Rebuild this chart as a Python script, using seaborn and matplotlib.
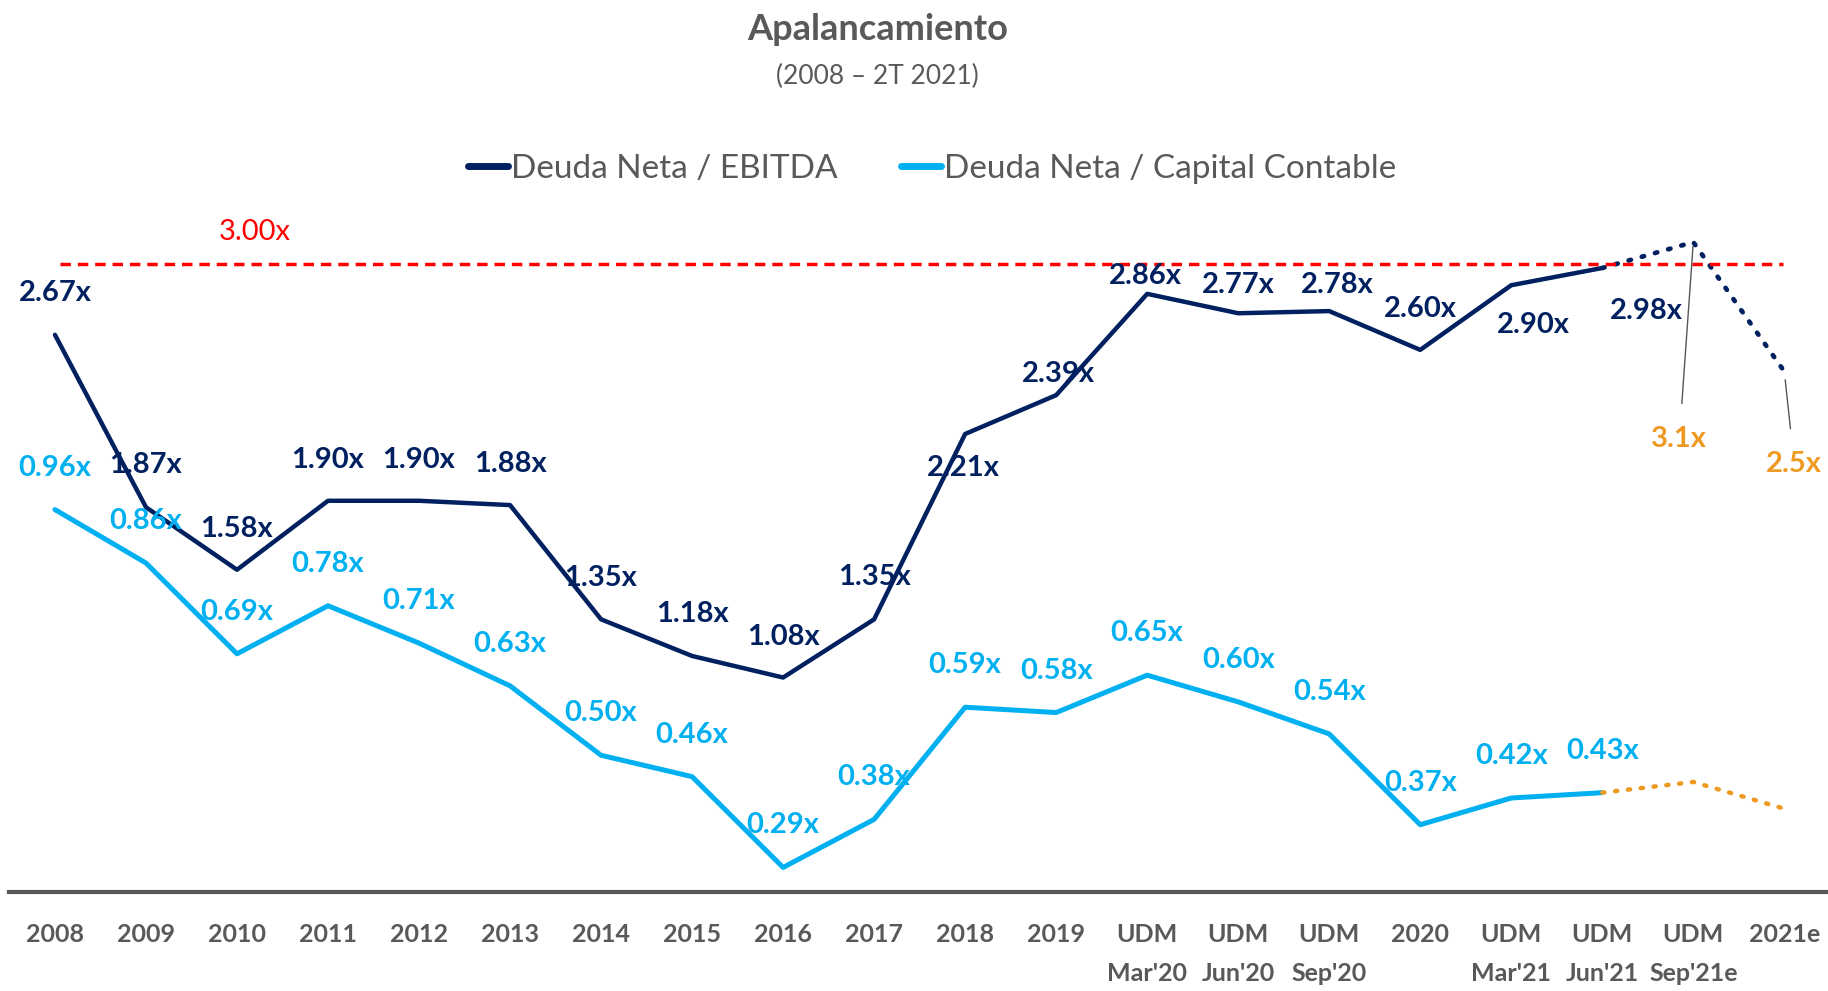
import numpy as np
import matplotlib
matplotlib.use('Agg')
import matplotlib.pyplot as plt
from matplotlib.lines import Line2D
import seaborn as sns
import pandas as pd

sns.set_theme(style='white')
plt.rcParams['font.family'] = ['Lato', 'DejaVu Sans']

# ---- data ----
periodos = ['2008', '2009', '2010', '2011', '2012', '2013', '2014', '2015', '2016', '2017',
            '2018', '2019', "UDM\nMar'20", "UDM\nJun'20", "UDM\nSep'20", '2020',
            "UDM\nMar'21", "UDM\nJun'21", "UDM\nSep'21e", '2021e']
deuda_ebitda = [2.67, 1.87, 1.58, 1.90, 1.90, 1.88, 1.35, 1.18, 1.08, 1.35,
                2.21, 2.39, 2.86, 2.77, 2.78, 2.60, 2.90, 2.98]
deuda_capital = [0.96, 0.86, 0.69, 0.78, 0.71, 0.63, 0.50, 0.46, 0.29, 0.38,
                 0.59, 0.58, 0.65, 0.60, 0.54, 0.37, 0.42, 0.43]
# estimates (Jun'21 real value, then Sep'21e and 2021e)
est_ebitda = [2.98, 3.10, 2.50]
est_capital = [0.43, 0.45, 0.40]
limite = 3.00

# label offsets (pixels) for each point
off_ebitda = [(0, 42), (0, 42), (0, 41), (0, 41), (0, 41), (0, 41), (0, 41), (0, 42), (0, 41), (0, 42),
              (-2, -34), (2, 21), (-2, 18), (0, 28), (8, 26), (0, 41), (22, -40), (44, -43)]
off_capital = [(0, 42)] * 18

navy = '#002060'
celeste = '#00B0F0'
naranja = '#EE9A22'
gris = '#595959'

n = len(deuda_ebitda)
df = pd.DataFrame({'x': range(n), 'ebitda': deuda_ebitda, 'capital': deuda_capital})
df_est = pd.DataFrame({'x': range(n - 1, n + 2), 'ebitda': est_ebitda, 'capital': est_capital})

fig = plt.figure(figsize=(18.28, 9.91), dpi=100)
ax = fig.add_axes([9 / 1828, 1 - 892 / 991, 1 - 9 / 1828, (892 - 210) / 991])
ax2 = ax.twinx()

sns.lineplot(data=df, x='x', y='ebitda', ax=ax, color=navy, lw=3.2)
sns.lineplot(data=df_est, x='x', y='ebitda', ax=ax, color=navy, lw=3.4, linestyle=(0, (0.5, 2.4)),
             dash_capstyle='round')
sns.lineplot(data=df, x='x', y='capital', ax=ax2, color=celeste, lw=3.6)
sns.lineplot(data=df_est, x='x', y='capital', ax=ax2, color=naranja, lw=3.2, linestyle=(0, (0.5, 2.4)),
             dash_capstyle='round')

ax.axhline(limite, xmin=0.028, xmax=0.975, color='#FF0000', lw=2.5, linestyle=(0, (3, 2)))
ax.text(2.19, limite + 0.145, '3.00x', color='#FF0000', fontsize=21, ha='center', va='center')

ax.set_xlim(-0.505, 19.48)
ax.set_ylim(0.085, 3.249)
ax2.set_ylim(0.244, 1.521)

lab_font = dict(fontsize=21, fontweight='bold', ha='center', va='center')
for i, v in enumerate(deuda_ebitda):
    dx, dy = off_ebitda[i]
    ax.annotate(f'{v:.2f}x', (i, v), xytext=(dx, dy), textcoords='offset pixels', color=navy, **lab_font)
for i, v in enumerate(deuda_capital):
    dx, dy = off_capital[i]
    ax2.annotate(f'{v:.2f}x', (i, v), xytext=(dx, dy), textcoords='offset pixels', color=celeste, **lab_font)

# estimate labels with leader lines
ax.annotate(f'{est_ebitda[1]:.1f}x', (n, est_ebitda[1]), xytext=(-14, -197), textcoords='offset pixels',
            color=naranja, arrowprops=dict(arrowstyle='-', color='#555555', lw=1, shrinkA=14, shrinkB=3),
            **lab_font)
ax.annotate(f'{est_ebitda[2]:.1f}x', (n + 1, est_ebitda[2]), xytext=(10, -93), textcoords='offset pixels',
            color=naranja, arrowprops=dict(arrowstyle='-', color='#555555', lw=1, shrinkA=14, shrinkB=6),
            **lab_font)

for a in (ax, ax2):
    for s in ['top', 'right', 'left', 'bottom']:
        a.spines[s].set_visible(False)
    a.set_yticks([])
    a.set_ylabel('')
    a.set_xlabel('')
ax.spines['bottom'].set_visible(True)
ax.spines['bottom'].set_color(gris)
ax.spines['bottom'].set_linewidth(3)

ax.set_xticks(range(len(periodos)))
ax.set_xticklabels(periodos, fontsize=18, fontweight='bold', color=gris, va='top', linespacing=1.85)
ax.tick_params(axis='x', length=0, pad=22)

fig.text(0.48, 1 - 29 / 991, 'Apalancamiento', ha='center', va='center', fontsize=26,
         fontweight='bold', color=gris)
fig.text(0.48, 1 - 76 / 991, '(2008 – 2T 2021)', ha='center', va='center', fontsize=19, color=gris)

handles = [Line2D([], [], color=navy, lw=5), Line2D([], [], color=celeste, lw=5)]
fig.legend(handles, ['Deuda Neta / EBITDA', 'Deuda Neta / Capital Contable'], loc='center',
           bbox_to_anchor=(0.51, 1 - 169 / 991), ncol=2, frameon=False, fontsize=24,
           handlelength=1.2, handletextpad=0.1, columnspacing=1.9, labelcolor=gris)

fig.savefig('out.png', dpi=100)
